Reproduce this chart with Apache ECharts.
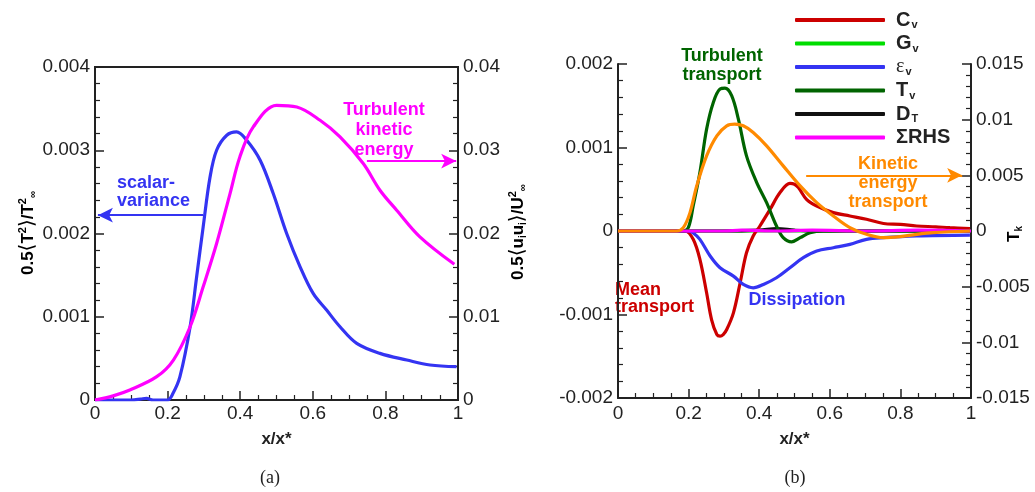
<!DOCTYPE html>
<html>
<head>
<meta charset="utf-8">
<title>Scalar variance and kinetic energy budgets</title>
<script src="https://cdn.jsdelivr.net/npm/echarts@6/dist/echarts.min.js"></script>
<style>
  html, body { margin: 0; padding: 0; background: #ffffff; }
  #chart { width: 1035px; height: 492px; }
</style>
</head>
<body>
<div id="chart"></div>
<script>
// ---- tick labels ----
const xTickLabels = ['0', '0.2', '0.4', '0.6', '0.8', '1'];
const scalarTickLabels = ['0', '0.001', '0.002', '0.003', '0.004'];
const tkeTickLabels = ['0', '0.01', '0.02', '0.03', '0.04'];
const budgetTickLabels = ['-0.002', '-0.001', '0', '0.001', '0.002'];
const tkTickLabels = ['-0.015', '-0.01', '-0.005', '0', '0.005', '0.01', '0.015'];

// ---- panel (a): scalar variance (left axis) ----
const scalarX = [0, 0.05, 0.1, 0.125, 0.142, 0.16, 0.2, 0.215, 0.234, 0.262, 0.28, 0.298, 0.317, 0.335, 0.363, 0.39, 0.418, 0.455, 0.491, 0.528, 0.565, 0.601, 0.638, 0.675, 0.721, 0.785, 0.859, 0.923, 0.996];
const scalarV = [0, 0, 0, 0.00001, 0.00002, 0, 0, 0.00008, 0.00028, 0.00088, 0.00148, 0.00208, 0.00268, 0.0030, 0.00318, 0.00322, 0.00312, 0.00288, 0.00248, 0.0020, 0.0016, 0.00128, 0.00108, 0.00088, 0.00068, 0.00056, 0.00048, 0.00042, 0.0004];

// ---- panel (a): turbulent kinetic energy (right axis) ----
const tkeX = [0, 0.05, 0.096, 0.17, 0.216, 0.262, 0.298, 0.335, 0.372, 0.399, 0.436, 0.5, 0.556, 0.62, 0.675, 0.739, 0.785, 0.831, 0.895, 0.99];
const tkeV = [0, 0.0005, 0.0012, 0.0028, 0.0048, 0.0088, 0.0136, 0.0188, 0.0248, 0.0292, 0.0328, 0.0354, 0.0352, 0.0336, 0.0316, 0.0284, 0.0252, 0.0228, 0.0196, 0.0163];

// ---- panel (b): scalar-variance budget terms (left axis) ----
const cvX = [0, 0.1, 0.19, 0.213, 0.232, 0.251, 0.265, 0.28, 0.289, 0.298, 0.308, 0.327, 0.346, 0.364, 0.383, 0.402, 0.431, 0.459, 0.487, 0.5, 0.511, 0.534, 0.563, 0.61, 0.657, 0.704, 0.752, 0.8, 0.846, 0.9, 0.94, 0.997];
const cvV = [0, 0, 0, -0.0001, -0.00034, -0.00074, -0.00106, -0.00124, -0.00126, -0.00124, -0.00118, -0.00098, -0.00062, -0.00026, -0.00006, 0.00006, 0.00026, 0.00046, 0.00057, 0.00056, 0.00052, 0.00038, 0.0003, 0.00022, 0.00018, 0.00014, 0.00009, 0.00008, 0.00006, 0.00005, 0.00004, 0.00003];

const gvX = [0, 0.5, 1];
const gvV = [0, 0, 0];

const epsX = [0, 0.1, 0.2, 0.215, 0.232, 0.261, 0.289, 0.327, 0.355, 0.383, 0.412, 0.449, 0.487, 0.525, 0.563, 0.61, 0.657, 0.704, 0.752, 0.846, 0.997];
const epsV = [0, 0, 0, -0.00003, -0.0001, -0.0003, -0.00044, -0.00054, -0.00064, -0.00068, -0.00064, -0.00056, -0.00044, -0.00032, -0.00024, -0.0002, -0.00016, -0.0001, -0.00008, -0.00006, -0.00005];

const tvX = [0, 0.1, 0.185, 0.2, 0.213, 0.232, 0.251, 0.27, 0.289, 0.303, 0.322, 0.341, 0.364, 0.393, 0.421, 0.449, 0.468, 0.492, 0.516, 0.544, 0.582, 0.7, 1];
const tvV = [0, 0, 0, 0.00005, 0.0003, 0.0007, 0.00122, 0.00154, 0.0017, 0.00171, 0.00162, 0.00134, 0.0009, 0.00058, 0.00034, 0.00006, -0.00008, -0.00013, -0.00008, -0.00002, 0, 0, 0];

const dtX = [0, 0.3, 0.4, 0.45, 0.5, 0.55, 1];
const dtV = [0, 0, 0.00001, 0.00003, 0.00001, 0, 0];

const rhsX = [0, 0.3, 0.35, 0.45, 0.55, 0.7, 0.85, 1];
const rhsV = [0, 0, 0.00001, 0, 0.00001, 0, 0.00001, 0];

// ---- panel (b): kinetic energy transport (right axis) ----
const ketX = [0, 0.1, 0.166, 0.185, 0.204, 0.223, 0.251, 0.28, 0.308, 0.331, 0.355, 0.383, 0.421, 0.468, 0.516, 0.563, 0.61, 0.657, 0.704, 0.752, 0.799, 0.846, 0.893, 0.997];
const ketV = [0, 0, 0, 0.0003, 0.00165, 0.00405, 0.00675, 0.00855, 0.00945, 0.0096, 0.00945, 0.00885, 0.00765, 0.00585, 0.00405, 0.00255, 0.00135, 0.0003, -0.0003, -0.0006, -0.00051, -0.0003, -0.00015, 0];

// legend entries: [main text, subscript]
const legendNames = ['Cv', 'Gv', 'εv', 'Tv', 'DT', 'ΣRHS'];
const legendParts = { 'Cv': ['C', 'v'], 'Gv': ['G', 'v'], 'εv': ['ε', 'v'], 'Tv': ['T', 'v'], 'DT': ['D', 'T'], 'ΣRHS': ['ΣRHS', ''] };

const FONT = '"Liberation Sans", Arial, Helvetica, sans-serif';
const AXIS_COLOR = '#222222';
const C_BLUE = '#3434f2';
const C_MAGENTA = '#ff00ff';
const C_RED = '#cc0000';
const C_LGREEN = '#00dd00';
const C_DGREEN = '#006400';
const C_ORANGE = '#ff8a00';

const pairs = (xs, vs) => xs.map((x, i) => [x, vs[i]]);

function ticksFrom(labels) {
  const vals = labels.map(Number);
  const min = vals[0];
  const max = vals[vals.length - 1];
  const interval = +(vals[1] - vals[0]).toFixed(6);
  return {
    min, max, interval,
    formatter: v => {
      const k = Math.round((v - min) / interval);
      return labels[k] !== undefined ? labels[k] : '';
    }
  };
}

function valueAxis(labels, extra, minorSplit, labelMargin) {
  const t = ticksFrom(labels);
  return Object.assign({
    type: 'value',
    min: t.min,
    max: t.max,
    interval: t.interval,
    axisLine: { show: true, onZero: false, lineStyle: { color: AXIS_COLOR, width: 2 } },
    axisTick: { show: true, inside: true, length: 9, lineStyle: { color: AXIS_COLOR, width: 1.5 } },
    minorTick: { show: true, splitNumber: minorSplit, length: 5, lineStyle: { color: AXIS_COLOR, width: 1.2 } },
    splitLine: { show: false },
    minorSplitLine: { show: false },
    axisLabel: {
      show: true, showMinLabel: true, showMaxLabel: true,
      fontFamily: FONT, fontSize: 19, color: '#222', margin: labelMargin,
      formatter: t.formatter
    }
  }, extra);
}

function line(name, xs, vs, color, xi, yi, z) {
  return {
    name, type: 'line', xAxisIndex: xi, yAxisIndex: yi,
    data: pairs(xs, vs), smooth: 0.35, showSymbol: false, symbol: 'none',
    lineStyle: { color, width: 3.2 }, itemStyle: { color },
    emphasis: { disabled: true }, silent: true, z: z || 2
  };
}

function arrow(color, from, to) {
  return {
    silent: true, symbol: ['none', 'arrow'], symbolSize: [11, 15],
    label: { show: false }, emphasis: { disabled: true },
    lineStyle: { color, width: 2, type: 'solid' },
    data: [[{ coord: from }, { coord: to }]]
  };
}

const annStyle = (text, color, x, y, align, lh) => ({
  type: 'text', x, y, silent: true,
  style: {
    text, fill: color, font: 'bold 18px ' + FONT,
    align, verticalAlign: 'middle', lineHeight: lh
  }
});

const titleRich = {
  b: { fontFamily: FONT, fontWeight: 'bold', fontSize: 17, color: '#222' },
  br: { fontFamily: '"DejaVu Sans", ' + FONT, fontSize: 20, color: '#222' },
  sup: { fontFamily: FONT, fontWeight: 'bold', fontSize: 11, color: '#222', padding: [0, 0, 11, 0] },
  sub: { fontFamily: FONT, fontWeight: 'bold', fontSize: 10, color: '#222', padding: [10, 0, 0, 0] }
};

const chart = echarts.init(document.getElementById('chart'), null, { renderer: 'canvas' });

const option = {
  backgroundColor: '#ffffff',
  animation: false,
  grid: [
    { left: 95, top: 67, width: 363, height: 333, show: true, borderColor: AXIS_COLOR, borderWidth: 2, backgroundColor: 'transparent' },
    { left: 618, top: 64, width: 353, height: 334 }
  ],
  legend: {
    data: legendNames,
    orient: 'vertical',
    left: 790,
    top: 5,
    icon: 'roundRect',
    itemWidth: 90,
    itemHeight: 4,
    itemGap: 3,
    selectedMode: false,
    formatter: name => {
      const p = legendParts[name];
      const main = name === 'εv' ? '{e|' + p[0] + '}' : '{m|' + p[0] + '}';
      return p[1] ? main + '{s|' + p[1] + '}' : main;
    },
    textStyle: {
      padding: [0, 0, 0, 6],
      rich: {
        m: { fontFamily: FONT, fontWeight: 'bold', fontSize: 20, color: '#222', lineHeight: 22 },
        e: { fontFamily: '"Liberation Serif", serif', fontSize: 20, color: '#222', lineHeight: 22 },
        s: { fontFamily: FONT, fontWeight: 'bold', fontSize: 11, color: '#222', padding: [10, 0, 0, 1] }
      }
    }
  },
  xAxis: [
    valueAxis(xTickLabels, {
      gridIndex: 0, position: 'bottom',
      name: 'x/x*', nameLocation: 'middle', nameGap: 31,
      nameTextStyle: { fontFamily: FONT, fontWeight: 'bold', fontSize: 17, color: '#222' }
    }, 4, 4),
    valueAxis(xTickLabels, {
      gridIndex: 1, position: 'bottom',
      name: 'x/x*', nameLocation: 'middle', nameGap: 33,
      nameTextStyle: { fontFamily: FONT, fontWeight: 'bold', fontSize: 17, color: '#222' }
    }, 4, 6)
  ],
  yAxis: [
    valueAxis(scalarTickLabels, { gridIndex: 0, position: 'left' }, 5, 5),
    valueAxis(tkeTickLabels, { gridIndex: 0, position: 'right' }, 5, 5),
    valueAxis(budgetTickLabels, { gridIndex: 1, position: 'left' }, 5, 5),
    valueAxis(tkTickLabels, { gridIndex: 1, position: 'right' }, 5, 5)
  ],
  series: [
    Object.assign(line('Scalar variance', scalarX, scalarV, C_BLUE, 0, 0, 2), {
      markLine: arrow(C_BLUE, [0.2975, 0.00222], [0.008, 0.00222])
    }),
    Object.assign(line('Turbulent kinetic energy', tkeX, tkeV, C_MAGENTA, 0, 1, 3), {
      markLine: arrow(C_MAGENTA, [0.749, 0.0287], [0.995, 0.0287])
    }),
    line('Gv', gvX, gvV, C_LGREEN, 1, 2, 2),
    line('DT', dtX, dtV, '#111111', 1, 2, 2),
    line('Cv', cvX, cvV, C_RED, 1, 2, 3),
    line('εv', epsX, epsV, C_BLUE, 1, 2, 3),
    line('Tv', tvX, tvV, C_DGREEN, 1, 2, 3),
    line('ΣRHS', rhsX, rhsV, C_MAGENTA, 1, 2, 4),
    Object.assign(line('Kinetic energy transport', ketX, ketV, C_ORANGE, 1, 3, 5), {
      markLine: arrow(C_ORANGE, [0.533, 0.005], [0.975, 0.005])
    })
  ],
  graphic: [
    // axis titles
    { type: 'text', x: 28, y: 233, rotation: Math.PI / 2, silent: true,
      style: { text: '{b|0.5}{br|⟨}{b|T}{sup|2}{br|⟩}{b|/T}{sup|2}{sub|∞}', rich: titleRich, align: 'center', verticalAlign: 'middle' } },
    { type: 'text', x: 518, y: 232, rotation: Math.PI / 2, silent: true,
      style: { text: '{b|0.5}{br|⟨}{b|u}{sub|i}{b|u}{sub|i}{br|⟩}{b|/U}{sup|2}{sub|∞}', rich: titleRich, align: 'center', verticalAlign: 'middle' } },
    { type: 'text', x: 1014, y: 234, rotation: Math.PI / 2, silent: true,
      style: { text: '{b|T}{sub|k}', rich: titleRich, align: 'center', verticalAlign: 'middle' } },
    // panel captions
    { type: 'text', x: 270, y: 478, silent: true,
      style: { text: '(a)', font: '18px "Liberation Serif", serif', fill: '#222', align: 'center', verticalAlign: 'middle' } },
    { type: 'text', x: 795, y: 478, silent: true,
      style: { text: '(b)', font: '18px "Liberation Serif", serif', fill: '#222', align: 'center', verticalAlign: 'middle' } },
    // curve annotations
    annStyle('scalar-\nvariance', C_BLUE, 117, 192, 'left', 18),
    annStyle('Turbulent\nkinetic\nenergy', C_MAGENTA, 384, 130, 'center', 20),
    annStyle('Turbulent\ntransport', C_DGREEN, 722, 66, 'center', 19),
    annStyle('Mean\ntransport', C_RED, 615, 299, 'left', 17),
    annStyle('Dissipation', C_BLUE, 797, 300, 'center', 18),
    annStyle('Kinetic\nenergy\ntransport', C_ORANGE, 888, 183, 'center', 19)
  ]
};

chart.setOption(option);
</script>
</body>
</html>
